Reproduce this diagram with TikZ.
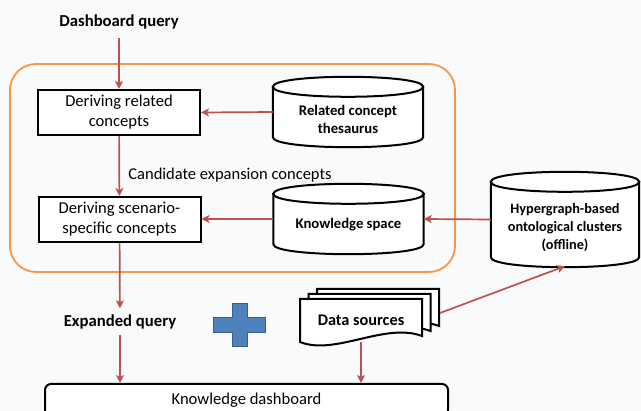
\documentclass[tikz,border=0pt]{standalone}
\usepackage{fontspec}
\setmainfont{Carlito}
\usetikzlibrary{arrows.meta}

\definecolor{flowred}{RGB}{192,80,77}
\definecolor{frameorange}{RGB}{247,150,70}
\definecolor{plusblue}{RGB}{79,129,189}
\definecolor{plusedge}{RGB}{56,93,138}
\definecolor{paper}{RGB}{249,250,252}

\begin{document}
\begin{tikzpicture}[x=1pt, y=-1pt,
  % Node styles
  proc/.style={draw, line width=2pt, minimum width=162pt, minimum height=45pt,
               fill=white, align=center, font=\fontsize{16.6}{20}\selectfont},
  store/.style={minimum width=150pt, minimum height=70pt},
  storetxt/.style={align=center, yshift=-7pt, font=\fontsize{14.7}{18}\selectfont\bfseries},
  lbl/.style={font=\fontsize{16.7}{20}\selectfont\bfseries},
  % Arrow styles
  flow/.style={-{Stealth[length=8pt, width=8pt, inset=2pt]}, line width=1.7pt, flowred},
  % Other
  dbline/.style={draw, line width=2pt, fill=white},
  docline/.style={draw, line width=2pt, fill=white},
]
\useasboundingbox (0,0) rectangle (641,411);
\fill[paper] (0,0) rectangle (641,411);

% === Orange frame ===
\draw[frameorange, line width=1.8pt, rounded corners=26pt] (10,64) rectangle (455,272);

% === Process boxes ===
\node[lbl] (dq) at (119,22) {Dashboard query};
\node[proc] (drc) at (119,112.5) {Deriving related\\concepts};
\node[proc] (dsc) at (119.5,219.5) {Deriving scenario-\\specific concepts};
\node[font=\fontsize{16.5}{20}\selectfont] (cec) at (230,175) {Candidate expansion concepts};

% === Stores ===
\node[store] (rct) at (348,112) {};
\node[store] (ks) at (348.5,219) {};
\node[store, minimum width=148pt, minimum height=95pt] (hoc) at (565,219.5) {};
\foreach \n in {rct, ks, hoc} {
  % body with lower cap
  \path[dbline] ([yshift=-10pt]\n.north west) -- ([yshift=10pt]\n.south west)
    .. controls ([yshift=-3.33pt]\n.south west) and ([yshift=-3.33pt]\n.south east)
    .. ([yshift=10pt]\n.south east) -- ([yshift=-10pt]\n.north east) -- cycle;
  % upper cap
  \path[dbline] ([yshift=-10pt]\n.north west)
    .. controls ([yshift=3.33pt]\n.north west) and ([yshift=3.33pt]\n.north east)
    .. ([yshift=-10pt]\n.north east)
    .. controls ([yshift=-23.33pt]\n.north east) and ([yshift=-23.33pt]\n.north west)
    .. cycle;
}
\node[storetxt] (rct-txt) at (rct) {Related concept\\thesaurus};
\node[storetxt, yshift=1pt] (ks-txt) at (ks) {Knowledge space};
\node[storetxt, yshift=-1.5pt, font=\fontsize{14.3}{18}\selectfont\bfseries]
  (hoc-txt) at (hoc) {Hypergraph-based\\ontological clusters\\(offline)};

% === Lower part ===
\node[lbl] (eq) at (120,322) {Expanded query};

% plus sign
\draw[fill=plusblue, draw=plusedge, line width=1pt]
  (232,304) -- (247,304) -- (247,318) -- (265,318) -- (265,333) -- (247,333)
  -- (247,347) -- (232,347) -- (232,333) -- (213,333) -- (213,318) -- (232,318) -- cycle;

% data sources (stacked documents)
\foreach \dx/\dy in {17/-10, 8.5/-5, 0/0} {
  \draw[docline, shift={(\dx,\dy)}] (300,299) -- (422,299) -- (422,336)
    .. controls (385,322) and (335,356) .. (300,342) -- cycle;
}
\node[font=\fontsize{16.3}{20}\selectfont\bfseries, minimum width=122pt, minimum height=44pt]
  (dsrc) at (361,320) {Data sources};
\coordinate (dsback) at (440,313);

\node[draw, line width=2pt, rounded corners=6pt, fill=white, anchor=north,
      minimum width=403pt, minimum height=32pt, font=\fontsize{16.6}{20}\selectfont]
  (kd) at (246.5,383) {Knowledge dashboard};

% === Arrows ===
\draw[flow, shorten <=5pt] (dq) -- (drc);
\draw[flow] (drc) -- (dsc);
\draw[flow] (rct.west) -- (drc.east);
\draw[flow] (ks.west) -- (dsc.east |- ks.west);
\draw[flow] (hoc.west) -- (ks.east);
\draw[flow, shorten >=3pt] (dsc) -- (eq);
\draw[flow, shorten <=2pt] (eq) -- (kd.north -| eq);
\draw[flow] (dsrc.south) -- (kd.north -| dsrc);
\draw[flow] (dsback) -- ([yshift=1pt]hoc.south);

\end{tikzpicture}
\end{document}
